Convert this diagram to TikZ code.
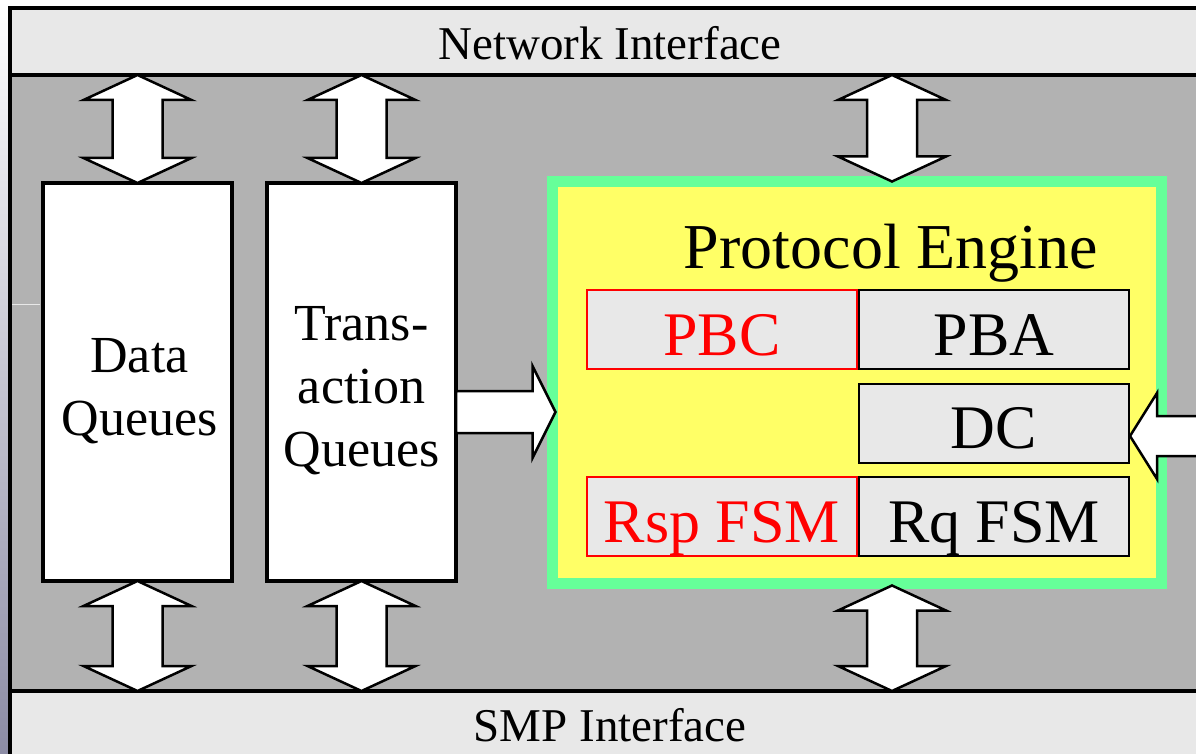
\documentclass[tikz,border=0pt]{standalone}
\usepackage{fontspec}
\setmainfont{Liberation Serif}
\usetikzlibrary{calc}

\definecolor{panel}{HTML}{B2B2B2}
\definecolor{band}{HTML}{E8E8E8}
\definecolor{peyellow}{HTML}{FFFF66}
\definecolor{pegreen}{HTML}{66FF99}
\definecolor{edgeblue}{RGB}{140,140,165}

\tikzset{
  queuebox/.style={draw=black, fill=white, line width=4pt, inner sep=0pt, outer sep=0pt,
    minimum width=189pt, minimum height=398pt},
  qlabel/.style={align=center, inner sep=0pt, font=\fontsize{52}{63}\selectfont},
  unitbox/.style={draw=black, fill=band, line width=2pt, inner sep=0pt, outer sep=0pt,
    minimum width=270pt, minimum height=79pt, font=\fontsize{62}{70}\selectfont,
    text height=51pt, text depth=0pt},
  hotbox/.style={unitbox, draw=red, text=red},
  iflabel/.style={anchor=base, inner sep=0pt, font=\fontsize{47}{50}\selectfont},
  bandbox/.style={draw=black, fill=band, line width=4pt},
  % vertical two-headed block arrow from start (top) to target (bottom)
  vlink/.style={draw=black, fill=white, line width=2.5pt, line join=miter,
    to path={let \p1=(\tikztostart), \p2=(\tikztotarget) in
      (\x1,\y1) -- (\x1+54pt,\y1-25pt) -- (\x1+25pt,\y1-25pt) -- (\x1+25pt,\y2+25pt)
      -- (\x1+54pt,\y2+25pt) -- (\x1,\y2) -- (\x1-54pt,\y2+25pt) -- (\x1-25pt,\y2+25pt)
      -- (\x1-25pt,\y1-25pt) -- (\x1-54pt,\y1-25pt) -- cycle}},
  % block arrow pointing right
  rlink/.style={draw=black, fill=white, line width=2.5pt, line join=miter,
    to path={let \p1=(\tikztostart), \p2=(\tikztotarget) in
      (\x1,\y1+21pt) -- (\x2-23pt,\y1+21pt) -- (\x2-23pt,\y1+46pt) -- (\x2,\y1)
      -- (\x2-23pt,\y1-46pt) -- (\x2-23pt,\y1-21pt) -- (\x1,\y1-21pt) -- cycle}},
  % block arrow pointing left
  llink/.style={draw=black, fill=white, line width=2.5pt, line join=miter,
    to path={let \p1=(\tikztostart), \p2=(\tikztotarget) in
      (\x1,\y1+20pt) -- (\x2+27pt,\y1+20pt) -- (\x2+27pt,\y1+43pt) -- (\x2,\y1)
      -- (\x2+27pt,\y1-43pt) -- (\x2+27pt,\y1-20pt) -- (\x1,\y1-20pt) -- cycle}},
}

\begin{document}
\begin{tikzpicture}[x=1pt, y=-1pt]
\useasboundingbox (0,0) rectangle (1196,754);
\begin{scope}
\clip (0,0) rectangle (1196,754);
\fill[white] (0,0) rectangle (1196,754);
\shade[top color=white, bottom color=edgeblue] (0,0) rectangle (8,754);

% board outline and interface bands
\draw[draw=black, fill=panel, line width=4pt] (10,8) rectangle (1230,780);
\draw[bandbox] (10,8) rectangle (1230,75);
\draw[bandbox] (10,691) rectangle (1230,780);
\coordinate (netbot) at (10,75);
\coordinate (smptop) at (10,691);
\node[iflabel] (netlbl) at (610,60) {Network Interface};
\node[iflabel] (smplbl) at (610,741) {SMP Interface};
\draw[band, line width=1pt] (12,304) -- (40,304);

% queues
\node[queuebox] (dq) at (137.5,382) {};
\node[queuebox] (tq) at (361.5,382) {};
\node[qlabel] (dqlbl) at ($(dq.center)+(2,9)$) {Data\\Queues};
\node[qlabel] (tqlbl) at ($(tq.center)+(0,9)$) {Trans-\\action\\Queues};

% protocol engine
\node[draw=pegreen, fill=peyellow, line width=11pt, inner sep=0pt, outer sep=0pt,
      minimum width=609pt, minimum height=402pt] (pe) at (857,382.5) {};
\node[anchor=base, inner sep=0pt, font=\fontsize{64}{70}\selectfont] (petitle) at (891,268) {Protocol Engine};
\node[unitbox] (pba) at (994,329.5) {PBA};
\node[hotbox]  (pbc) at (722,329.5) {PBC};
\node[unitbox] (dc)  at (994,423) {DC};
\node[unitbox] (rq)  at (994,516.5) {Rq FSM};
\node[hotbox]  (rsp) at (722,516.5) {Rsp FSM};

% data paths
\coordinate (petop) at ($(pe.north)+(35,0)$);
\coordinate (pebot) at ($(pe.south)+(35,2)$);
\draw[vlink] (netbot -| dq.north) to (dq.north);
\draw[vlink] (netbot -| tq.north) to (tq.north);
\draw[vlink] (netbot -| petop) to (petop);
\draw[vlink] (dq.south) to (smptop -| dq.south);
\draw[vlink] (tq.south) to (smptop -| tq.south);
\draw[vlink] (pebot) to (smptop -| pebot);

\coordinate (tqout) at ($(tq.east)+(0,30)$);
\coordinate (pein) at ($(pe.west |- tqout)+(3,0)$);
\draw[rlink] (tqout) to (pein);

\coordinate (dcin) at ($(dc.east)+(1,13)$);
\coordinate (extin) at ($(dcin)+(120,0)$);
\draw[llink] (extin) to (dcin);
\end{scope}
\end{tikzpicture}
\end{document}
